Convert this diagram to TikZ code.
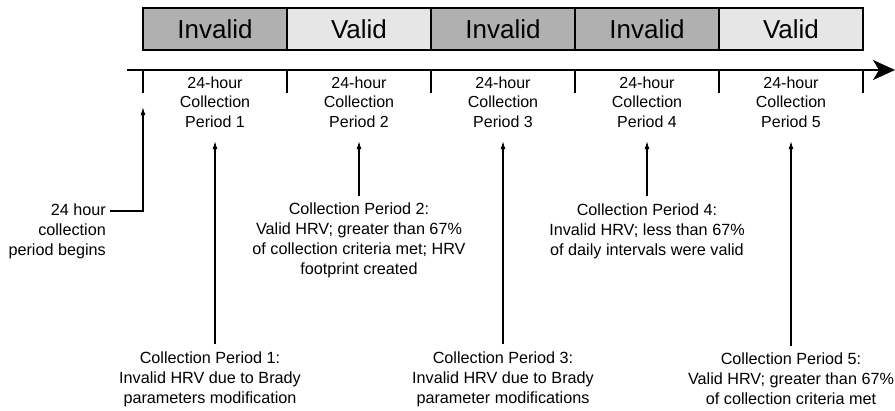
\documentclass[tikz,border=0pt]{standalone}
\usepackage{fontspec}
\setmainfont{Liberation Sans}
\usetikzlibrary{arrows.meta}
\definecolor{invalidgray}{HTML}{B0B0B0}
\definecolor{validgray}{HTML}{E6E6E6}
\begin{document}
\begin{tikzpicture}[x=1pt,y=-1pt,
  statebox/.style={draw=black,line width=2pt,minimum width=144pt,minimum height=42pt,inner sep=0pt,font=\fontsize{26}{30}\selectfont},
  invalidbox/.style={statebox,fill=invalidgray},
  validbox/.style={statebox,fill=validgray},
  periodlabel/.style={align=center,inner sep=0pt,font=\fontsize{16}{19.5}\selectfont},
  annot/.style={align=center,inner xsep=0pt,inner ysep=7pt,font=\fontsize{16.2}{20}\selectfont},
  tick/.style={line width=2pt},
  pointer/.style={line width=1.3pt,-{Latex[length=8pt,width=5pt]}}]
\useasboundingbox (0,0) rectangle (895,410);
% state boxes
\node[invalidbox] (b1) at (215,29) {Invalid};
\node[validbox]   (b2) at (359,29) {Valid};
\node[invalidbox] (b3) at (503,29) {Invalid};
\node[invalidbox] (b4) at (647,29) {Invalid};
\node[validbox]   (b5) at (791,29) {Valid};
% timeline
\coordinate (tlstart) at (127,70);
\coordinate (tlend) at (895,70);
\draw[line width=2pt,-{Stealth[length=22pt,width=20pt,inset=6pt]}] (tlstart) -- (tlend);
\foreach \i/\x in {0/143,1/287,2/431,3/575,4/719,5/863}{
  \coordinate (k\i) at (\x,70);
  \coordinate (kb\i) at (\x,93);
  \draw[tick] (k\i) -- (kb\i);
}
% period labels
\node[periodlabel] (p1) at (215,102) {24-hour\\Collection\\Period 1};
\node[periodlabel] (p2) at (359,102) {24-hour\\Collection\\Period 2};
\node[periodlabel] (p3) at (503,102) {24-hour\\Collection\\Period 3};
\node[periodlabel] (p4) at (647,102) {24-hour\\Collection\\Period 4};
\node[periodlabel] (p5) at (791,102) {24-hour\\Collection\\Period 5};
% arrow tips
\coordinate (t0) at (143,107);
\coordinate (t1) at (215,141);
\coordinate (t2) at (359,141);
\coordinate (t3) at (503,141);
\coordinate (t4) at (647,141);
\coordinate (t5) at (791,141);
% annotations
\node[annot,align=right,anchor=east] (a0) at (106,231) {24 hour\\collection\\period begins};
\coordinate (c0) at (110,211);
\draw[pointer] (c0) -| (t0);
\node[annot] (a1) at (210,379) {Collection Period 1:\\Invalid HRV due to Brady\\parameters modification};
\draw[pointer] ([xshift=5pt]a1.north) -- (t1);
\node[annot] (a2) at (359,240.5) {Collection Period 2:\\Valid HRV; greater than 67\%\\of collection criteria met; HRV\\footprint created};
\draw[pointer] (a2.north) -- (t2);
\node[annot] (a3) at (503,379) {Collection Period 3:\\Invalid HRV due to Brady\\parameter modifications};
\draw[pointer] (a3.north) -- (t3);
\node[annot] (a4) at (647,231) {Collection Period 4:\\Invalid HRV; less than 67\%\\of daily intervals were valid};
\draw[pointer] (a4.north) -- (t4);
\node[annot] (a5) at (791,379) {Collection Period 5:\\Valid HRV; greater than 67\%\\of collection criteria met};
\draw[pointer] (a5.north) -- (t5);
\end{tikzpicture}
\end{document}
